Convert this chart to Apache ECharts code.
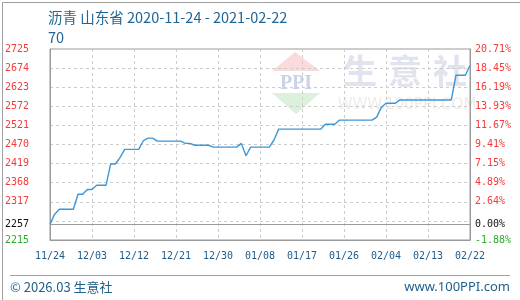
<!DOCTYPE html>
<html>
<head>
<meta charset="utf-8">
<script src="https://cdn.jsdelivr.net/npm/echarts@6/dist/echarts.min.js"></script>
<style>
html,body{margin:0;padding:0;background:#fff;}
#chart{width:520px;height:300px;}
</style>
</head>
<body>
<div id="chart"></div>
<script>
// ---- data ----
const titleText = '沥青 山东省 2020-11-24 - 2021-02-22';
const subText = '70';
const startDate = '2020-11-24';
const prices = [
  2257, 2284, 2297, 2297, 2297, 2297, 2337, 2337, 2350, 2350,
  2361, 2361, 2361, 2418, 2418, 2435, 2457, 2457, 2457, 2457,
  2480, 2487, 2487, 2479, 2479, 2479, 2479, 2479, 2479, 2473,
  2473, 2468, 2468, 2468, 2468, 2463, 2463, 2463, 2463, 2463,
  2463, 2473, 2440, 2463, 2463, 2463, 2463, 2463, 2482, 2511,
  2511, 2511, 2511, 2511, 2511, 2511, 2511, 2511, 2511, 2524,
  2524, 2524, 2535, 2535, 2535, 2535, 2535, 2535, 2535, 2535,
  2543, 2569, 2580, 2580, 2580, 2589, 2589, 2589, 2589, 2589,
  2589, 2589, 2589, 2589, 2589, 2589, 2589, 2655, 2655, 2655,
  2681
];
const baseValue = 2257;
const gridValues = [2215, 2266, 2317, 2368, 2419, 2470, 2521, 2572, 2623, 2674, 2725];
const priceTicks = [2215, 2257, 2317, 2368, 2419, 2470, 2521, 2572, 2623, 2674, 2725];
const pctTicks = ['-1.88%', '0.00%', '2.64%', '4.89%', '7.15%', '9.41%', '11.67%', '13.93%', '16.19%', '18.45%', '20.71%'];
const yMin = 2215, yMax = 2725;

// categories (one per day)
const dates = [];
(function () {
  const d = new Date(startDate + 'T00:00:00Z');
  for (let i = 0; i < prices.length; i++) {
    const t = new Date(d.getTime() + i * 86400000);
    const mm = String(t.getUTCMonth() + 1).padStart(2, '0');
    const dd = String(t.getUTCDate()).padStart(2, '0');
    dates.push(mm + '/' + dd);
  }
})();

const mono = "'DejaVu Sans Mono', 'Liberation Mono', monospace";
const RED = '#f23b3b', GREEN = '#2eab2e', BLACK = '#111';
function styleFor(v) { return v > baseValue ? 'r' : (v < baseValue ? 'g' : 'k'); }
const richStyles = {
  r: { color: RED, fontFamily: mono, fontSize: 10 },
  g: { color: GREEN, fontFamily: mono, fontSize: 10 },
  k: { color: BLACK, fontFamily: mono, fontSize: 10 }
};

const chart = echarts.init(document.getElementById('chart'), null, { renderer: 'canvas' });
chart.setOption({
  animation: false,
  backgroundColor: '#fff',
  title: {
    text: titleText + '\n' + subText,
    left: 43,
    top: 2,
    textStyle: {
      color: '#1f6596',
      fontSize: 14.5,
      fontWeight: 'normal',
      fontFamily: "'Noto Sans CJK SC', 'Noto Sans', sans-serif",
      lineHeight: 20
    }
  },
  grid: {
    left: 50, right: 50, top: 49, bottom: 60,
    show: true, borderColor: '#9a9a9a', borderWidth: 1, backgroundColor: 'transparent'
  },
  xAxis: {
    type: 'category',
    data: dates,
    boundaryGap: false,
    axisLine: { lineStyle: { color: '#9a9a9a' } },
    axisTick: { show: false },
    axisLabel: { interval: 8, color: '#1d5c8c', fontFamily: mono, fontSize: 10, margin: 11 },
    splitLine: { show: true, interval: 8, lineStyle: { color: '#cccccc', type: [3, 3] } }
  },
  yAxis: [
    {
      type: 'value', position: 'left', min: yMin, max: yMax,
      axisLine: { show: true, lineStyle: { color: '#9a9a9a' } },
      axisTick: { show: false, customValues: gridValues },
      splitLine: { show: true, lineStyle: { color: '#cccccc', type: [3, 3] } },
      axisLabel: {
        customValues: priceTicks,
        align: 'left', margin: 45,
        formatter: function (v) { return '{' + styleFor(v) + '|' + v + '}'; },
        rich: richStyles
      }
    },
    {
      type: 'value', position: 'right', min: yMin, max: yMax,
      axisLine: { show: true, lineStyle: { color: '#9a9a9a' } },
      axisTick: { show: false, customValues: priceTicks },
      splitLine: { show: false },
      axisLabel: {
        customValues: priceTicks,
        align: 'left', margin: 5,
        formatter: function (v) {
          const i = priceTicks.indexOf(v);
          return '{' + styleFor(v) + '|' + (i >= 0 ? pctTicks[i] : '') + '}';
        },
        rich: richStyles
      }
    }
  ],
  series: [{
    type: 'line',
    data: prices,
    yAxisIndex: 0,
    showSymbol: false,
    symbol: 'none',
    lineStyle: { color: '#3d96d6', width: 1.4 },
    z: 5,
    markLine: {
      silent: true,
      symbol: 'none',
      label: { show: false },
      lineStyle: { color: '#9a9a9a', type: 'solid', width: 1 },
      data: [{ yAxis: baseValue }],
      animation: false
    }
  }],
  graphic: [
    { type: 'rect', left: 0, top: 0, shape: { x: 0.5, y: 0.5, width: 519, height: 299 }, style: { fill: null, stroke: '#a0a0a0', lineWidth: 1 }, z: -10, silent: true },
    // watermark logo
    { type: 'polygon', shape: { points: [[295, 52], [272, 71], [320, 71]] }, style: { fill: '#fadada' }, z: -5, silent: true },
    { type: 'text', x: 296, y: 84, style: { text: 'PPI', fill: '#cdd3e6', font: 'bold 20px "Liberation Serif", serif', textAlign: 'center', textVerticalAlign: 'middle' }, z: -5, silent: true },
    { type: 'polygon', shape: { points: [[272, 93], [320, 93], [296, 114]] }, style: { fill: '#dcf0dc' }, z: -5, silent: true },
    { type: 'text', x: 360, y: 71, style: { text: '生', fill: '#e1e4ee', font: 'bold 34px "Noto Sans CJK SC", sans-serif', textAlign: 'center', textVerticalAlign: 'middle' }, z: -5, silent: true },
    { type: 'text', x: 405, y: 71, style: { text: '意', fill: '#e1e4ee', font: 'bold 34px "Noto Sans CJK SC", sans-serif', textAlign: 'center', textVerticalAlign: 'middle' }, z: -5, silent: true },
    { type: 'text', x: 450, y: 71, style: { text: '社', fill: '#e1e4ee', font: 'bold 34px "Noto Sans CJK SC", sans-serif', textAlign: 'center', textVerticalAlign: 'middle' }, z: -5, silent: true },
    { type: 'text', x: 407, y: 105, style: { text: 'WWW.100PPI.COM', fill: '#ececec', font: '15px "DejaVu Sans", sans-serif', textAlign: 'center', textVerticalAlign: 'middle' }, z: -5, silent: true },
    // footer
    { type: 'line', shape: { x1: 10, y1: 275.5, x2: 510, y2: 275.5 }, style: { stroke: '#a0a0a0', lineWidth: 1 }, silent: true },
    { type: 'text', x: 10, y: 287, style: { text: '© 2026.03 生意社', fill: '#22618c', font: '13px "Noto Sans CJK SC", "Noto Sans", sans-serif', textVerticalAlign: 'middle' }, silent: true },
    { type: 'text', x: 510, y: 287, style: { text: 'www.100PPI.com', fill: '#22618c', font: '13px "Noto Sans", sans-serif', textAlign: 'right', textVerticalAlign: 'middle' }, silent: true }
  ]
});
</script>
</body>
</html>
